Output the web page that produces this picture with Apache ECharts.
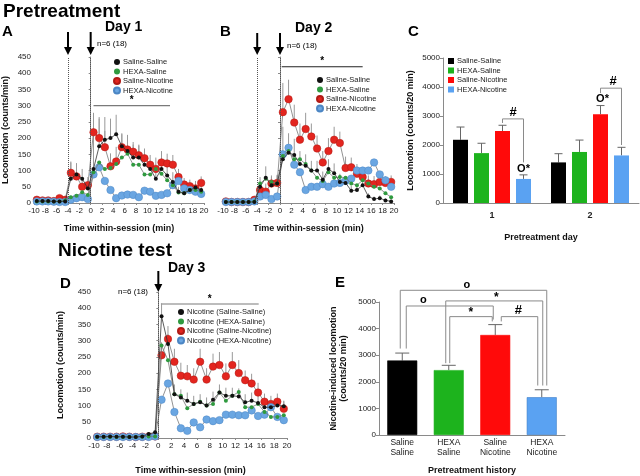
<!DOCTYPE html>
<html>
<head>
<meta charset="utf-8">
<script src="https://cdn.jsdelivr.net/npm/echarts@6/dist/echarts.min.js"></script>
<style>html,body{margin:0;padding:0;background:#fff}#main{width:640px;height:476px}</style>
</head>
<body>
<div id="main"></div>
<script>
// time bins (min) used in panels A, B, D
const times = [-9.5,-8.5,-7.5,-6.5,-5.5,-4.5,-3.5,-2.5,-1.5,-0.5,0.5,1.5,2.5,3.5,4.5,5.5,6.5,7.5,8.5,9.5,10.5,11.5,12.5,13.5,14.5,15.5,16.5,17.5,18.5,19.5];

// Panel A - Day 1
const ssA = [6,6,6,5,5,5,75,88,75,45,105,175,195,200,212,175,160,140,140,118,105,75,105,85,65,35,30,40,48,40];
const hsA = [5,5,5,5,5,8,18,22,33,25,95,125,105,108,120,140,152,118,118,88,88,105,90,70,55,32,30,40,40,35];
const snA = [10,8,8,6,15,10,93,82,50,55,218,200,172,113,128,172,165,158,147,138,118,105,125,122,118,80,57,52,45,62];
const hnA = [5,5,5,4,3,3,10,15,18,12,88,110,68,40,15,23,26,25,18,38,35,22,25,30,55,68,45,40,35,28];
const ssAerr = [2,2,2,2,2,2,50,35,30,20,170,90,70,60,60,40,50,40,40,30,25,25,30,35,30,15,15,15,20,15];
const snAerr = [3,3,3,3,3,3,35,30,25,25,60,60,50,40,45,40,35,30,30,30,30,35,35,30,30,25,20,20,15,20];

// Panel B - Day 2
const ssB = [3,3,3,3,3,3,50,78,55,60,135,155,148,120,115,100,100,72,105,92,65,62,38,40,55,20,12,15,8,5];
const hsB = [3,3,3,3,3,5,60,75,65,60,145,160,135,135,120,100,78,68,95,78,80,78,60,55,70,60,50,45,30,18];
const snB = [5,3,3,3,3,10,40,35,60,62,280,320,248,195,228,205,168,125,160,195,185,108,110,90,80,60,58,65,62,65];
const hnB = [3,3,3,3,3,5,20,25,12,20,150,170,118,95,40,50,50,58,50,60,62,68,75,100,100,100,125,88,70,50];
const ssBerr = [2,2,2,2,2,2,30,35,25,25,100,60,50,40,35,30,30,25,30,30,25,20,15,15,20,10,8,8,6,5];
const snBerr = [2,2,2,2,2,3,25,25,25,25,90,60,55,50,50,40,40,35,40,40,35,35,30,30,30,25,25,25,20,20];

// Panel D - Day 3 nicotine test
const ssD = [4,4,5,4,4,3,3,5,12,18,375,290,135,125,115,105,110,100,118,140,130,130,128,110,115,108,95,95,100,98];
const hsD = [3,3,3,3,3,3,3,4,5,5,285,240,135,130,92,105,112,100,105,140,115,130,142,95,95,105,80,65,65,70];
const snD = [4,4,4,4,5,4,3,4,5,5,255,305,235,192,190,180,235,180,220,225,190,225,200,178,168,140,112,105,112,90];
const hnD = [3,3,3,3,3,3,3,3,3,5,118,168,80,30,22,48,33,57,52,55,72,72,70,70,85,68,72,95,65,55];
const ssDerr = [2,2,2,2,2,2,2,3,5,5,40,30,30,25,25,25,25,25,25,25,25,25,25,25,25,25,20,15,15,15];
const snDerr = [2,2,2,2,2,2,2,2,3,3,40,40,40,40,35,35,40,35,40,40,40,40,40,30,30,30,25,25,25,25];

// Panel C - total per pretreatment day
const cDays = ['1', '2'];
const cSS = [2180, 1400], cSSerr = [440, 300];
const cHS = [1720, 1760], cHSerr = [340, 410];
const cSN = [2480, 3060], cSNerr = [200, 300];
const cHN = [830, 1640], cHNerr = [140, 280];

// Panel E - nicotine-induced locomotion
const eGroups = ['Saline\nSaline', 'HEXA\nSaline', 'Saline\nNicotine', 'HEXA\nNicotine'];
const eVals = [2800, 2440, 3760, 1420];
const eErr = [280, 180, 390, 280];

const groupNames = ['Saline-Saline', 'HEXA-Saline', 'Saline-Nicotine', 'HEXA-Nicotine'];
const nicNames = ['Nicotine (Saline-Saline)', 'Nicotine (HEXA-Saline)', 'Nicotine (Saline-Nicotine)', 'Nicotine (HEXA-Nicotine)'];
const lineCol = ['#111111', '#2f9a3f', '#e3251f', '#6aa6e2'];
const barCol = ['#000000', '#1db31d', '#ff0a0a', '#5aa2f2'];

const FONT = 'Liberation Sans, Arial, sans-serif';
const chart = echarts.init(document.getElementById('main'));

const axisGray = { lineStyle: { color: '#8a8a8a', width: 1 } };
const tickLbl = { fontSize: 8, color: '#222', fontFamily: FONT };
const nameSt = { fontSize: 9, fontWeight: 'bold', color: '#111', fontFamily: FONT };
const plain = v => String(v);

function timeX(g) {
  return {
    type: 'value', gridIndex: g, min: -10, max: 20, interval: 2,
    axisLine: axisGray, axisTick: { length: 2, lineStyle: { color: '#8a8a8a' } },
    splitLine: { show: false }, axisLabel: Object.assign({ margin: 4, hideOverlap: false }, tickLbl),
    name: 'Time within-session (min)', nameLocation: 'middle', nameGap: g === 3 ? 28 : 21, nameTextStyle: nameSt
  };
}
function locoY(g, labels) {
  return {
    type: 'value', gridIndex: g, min: 0, max: 450, interval: 50,
    axisLine: { show: true, lineStyle: { color: '#8a8a8a' } },
    axisTick: { show: true, length: 2, lineStyle: { color: '#8a8a8a' } },
    splitLine: { show: false },
    axisLabel: Object.assign({ show: labels, margin: 3 }, tickLbl),
    name: labels ? 'Locomotion (counts/min)' : '', nameLocation: 'middle', nameGap: g === 3 ? 29 : 24, nameTextStyle: nameSt
  };
}

function lineSeries(g, name, vals, k) {
  const big = k >= 2;
  return {
    type: 'line', name: name, xAxisIndex: g, yAxisIndex: g,
    data: times.map((t, i) => [t, vals[i]]),
    symbol: 'circle', symbolSize: big ? 7.5 : 4,
    itemStyle: { color: lineCol[k], borderColor: big ? (k === 2 ? '#b01a15' : '#4c86c4') : lineCol[k], borderWidth: big ? 0.5 : 0 },
    lineStyle: { color: k === 0 ? '#333' : '#777', width: 0.8 },
    z: big ? 3 : 4, animation: false
  };
}
function errSeries(g, vals, errs) {
  return {
    type: 'custom', xAxisIndex: g, yAxisIndex: g, silent: true, z: 2,
    data: times.map((t, i) => [t, vals[i], errs[i]]),
    renderItem: function (params, api) {
      const p0 = api.coord([api.value(0), api.value(1)]);
      const p1 = api.coord([api.value(0), api.value(1) + api.value(2)]);
      return { type: 'line', shape: { x1: p0[0], y1: p0[1], x2: p1[0], y2: p1[1] }, style: { stroke: '#999', lineWidth: 1 } };
    }
  };
}
function barErr(g, vals, errs, offset, cap) {
  return {
    type: 'custom', xAxisIndex: g, yAxisIndex: g, silent: true, z: 1,
    data: vals.map((v, i) => [i, v, errs[i]]),
    renderItem: function (params, api) {
      const p0 = api.coord([api.value(0), api.value(1)]);
      const p1 = api.coord([api.value(0), api.value(1) + api.value(2)]);
      const x = p0[0] + offset;
      return { type: 'group', children: [
        { type: 'line', shape: { x1: x, y1: p0[1], x2: x, y2: p1[1] }, style: { stroke: '#666', lineWidth: 1 } },
        { type: 'line', shape: { x1: x - cap, y1: p1[1], x2: x + cap, y2: p1[1] }, style: { stroke: '#666', lineWidth: 1 } }
      ] };
    }
  };
}
function vlines(xs) {
  return { silent: true, symbol: 'none', label: { show: false }, lineStyle: { type: 'dotted', color: '#555', width: 1 },
    data: xs.map(v => ({ xAxis: v })) };
}

const series = [];
[[ssA, hsA, snA, hnA, ssAerr, snAerr, 0, groupNames, [-4, 0]],
 [ssB, hsB, snB, hnB, ssBerr, snBerr, 1, groupNames, [-4, 0]],
 [ssD, hsD, snD, hnD, ssDerr, snDerr, 3, nicNames, [0]]].forEach(p => {
  const g = p[6];
  series.push(errSeries(g, p[2], p[5]));
  series.push(errSeries(g, p[0], p[4]));
  const red = lineSeries(g, p[7][2], p[2], 2);
  red.markLine = vlines(p[8]);
  series.push(red);
  series.push(lineSeries(g, p[7][3], p[3], 3));
  series.push(lineSeries(g, p[7][1], p[1], 1));
  series.push(lineSeries(g, p[7][0], p[0], 0));
});

// Panel C bars
const cSets = [[cSS, cSSerr], [cHS, cHSerr], [cSN, cSNerr], [cHN, cHNerr]];
const cOff = [-31.5, -10.5, 10.5, 31.5];
cSets.forEach((s, k) => {
  series.push({ type: 'bar', name: 'C ' + groupNames[k], xAxisIndex: 2, yAxisIndex: 2, data: s[0],
    barWidth: 15, barGap: '40%', itemStyle: { color: barCol[k] }, z: 2, animation: false });
});
cSets.forEach((s, k) => series.push(barErr(2, s[0], s[1], cOff[k], 4)));

// Panel E bars
series.push({ type: 'bar', xAxisIndex: 4, yAxisIndex: 4, barWidth: 30, animation: false, z: 2,
  data: eVals.map((v, i) => ({ value: v, itemStyle: { color: barCol[i], borderColor: i === 3 ? '#3f7fc8' : barCol[i], borderWidth: 0.6 } })) });
series.push(barErr(4, eVals, eErr, 0, 7));

function legendAt(left, top, names, cols, icon, fmt) {
  return {
    orient: 'vertical', left: left, top: top, padding: 0, itemGap: 1.5,
    itemWidth: 6, itemHeight: 6, icon: icon, selectedMode: false,
    formatter: fmt,
    textStyle: { fontSize: 7.5, color: '#222', fontFamily: FONT, padding: [0, 0, 0, -2] },
    data: names.map((n, i) => ({ name: n, itemStyle: { color: cols[i] } }))
  };
}

chart.setOption({
  backgroundColor: '#fff',
  animation: false,
  textStyle: { fontFamily: FONT },
  grid: [
    { left: 34, top: 57, width: 170, height: 146 },
    { left: 223, top: 57, width: 171, height: 146 },
    { left: 443, top: 58, width: 196, height: 145 },
    { left: 94, top: 292, width: 193, height: 146 },
    { left: 379, top: 302, width: 186, height: 137 }
  ],
  xAxis: [
    timeX(0), timeX(1),
    { type: 'category', gridIndex: 2, data: cDays, axisLine: axisGray, axisTick: { show: false },
      axisLabel: { fontSize: 9, fontWeight: 'bold', color: '#222', margin: 8 },
      name: 'Pretreatment day', nameLocation: 'middle', nameGap: 30, nameTextStyle: nameSt },
    timeX(3),
    { type: 'category', gridIndex: 4, data: eGroups, axisLine: axisGray, axisTick: { show: false },
      axisLabel: { fontSize: 8.5, color: '#222', lineHeight: 10, margin: 3 },
      name: 'Pretreatment history', nameLocation: 'middle', nameGap: 31, nameTextStyle: nameSt }
  ],
  yAxis: [
    locoY(0, true), locoY(1, false),
    { type: 'value', gridIndex: 2, min: 0, max: 5000, interval: 1000, splitLine: { show: false },
      axisLine: { show: true, lineStyle: { color: '#8a8a8a' } }, axisTick: { show: true, length: 3, lineStyle: { color: '#8a8a8a' } },
      axisLabel: Object.assign({ margin: 3, formatter: plain }, tickLbl),
      name: 'Locomotion (counts/20 min)', nameLocation: 'middle', nameGap: 28, nameTextStyle: nameSt },
    locoY(3, true),
    { type: 'value', gridIndex: 4, min: 0, max: 5000, interval: 1000, splitLine: { show: false },
      axisLine: { show: true, lineStyle: { color: '#8a8a8a' } }, axisTick: { show: true, length: 3, lineStyle: { color: '#8a8a8a' } },
      axisLabel: Object.assign({ margin: 3, formatter: plain }, tickLbl),
      name: 'Nicotine-induced locomotion\n(counts/20 min)', nameLocation: 'middle', nameGap: 30,
      nameTextStyle: Object.assign({ lineHeight: 10 }, nameSt) }
  ],
  legend: [
    legendAt(113, 58, groupNames, lineCol, 'circle'),
    legendAt(316, 76, groupNames, lineCol, 'circle'),
    legendAt(177, 308, nicNames, lineCol, 'circle'),
    legendAt(448, 57, groupNames.map(n => 'C ' + n), barCol, 'rect', n => n.replace('C ', ''))
  ],
  series: series
});

// annotations placed through the axes
function px(g, x, y) { return chart.convertToPixel({ xAxisIndex: g, yAxisIndex: g }, [x, y]); }
const G = [];
function txt(x, y, s, size, bold, align) {
  G.push({ type: 'text', x: x, y: y, silent: true,
    style: { text: s, fontSize: size, fontWeight: bold ? 'bold' : 'normal', fontFamily: FONT, fill: '#000',
      align: align || 'left', verticalAlign: 'middle' } });
}
function arrow(x, y0, y1) {
  G.push({ type: 'line', silent: true, shape: { x1: x, y1: y0, x2: x, y2: y1 - 6 }, style: { stroke: '#000', lineWidth: 2 } });
  G.push({ type: 'polygon', silent: true, shape: { points: [[x - 4, y1 - 8], [x + 4, y1 - 8], [x, y1]] }, style: { fill: '#000' } });
}
function sigLine(g, x0, x1, y, color) {
  const a = px(g, x0, y), b = px(g, x1, y);
  G.push({ type: 'line', silent: true, shape: { x1: a[0], y1: a[1], x2: b[0], y2: b[1] }, style: { stroke: color, lineWidth: 1.2 } });
  txt((a[0] + b[0]) / 2, a[1] - 5, '*', 10, true, 'center');
}
function bracket(g, cl, dl, cr, dr, vl, vr, vt) {
  const l = px(g, cl, vl), r = px(g, cr, vr), t = px(g, cl, vt);
  G.push({ type: 'polyline', silent: true,
    shape: { points: [[l[0] + dl, l[1]], [l[0] + dl, t[1]], [r[0] + dr, t[1]], [r[0] + dr, r[1]]] },
    style: { stroke: '#8a8a8a', lineWidth: 1, fill: null } });
}
function catTxt(g, c, dx, v, s, size) {
  const p = px(g, c, v);
  txt(p[0] + dx, p[1], s, size, true, 'center');
}

// titles and panel letters
txt(3, 12, 'Pretreatment', 19, true);
txt(58, 251, 'Nicotine test', 19, true);
txt(2, 32, 'A', 15, true); txt(220, 32, 'B', 15, true); txt(408, 32, 'C', 15, true);
txt(60, 284, 'D', 15, true); txt(335, 283, 'E', 15, true);
txt(105, 27, 'Day 1', 14, true); txt(295, 28, 'Day 2', 14, true); txt(168, 268, 'Day 3', 14, true);
txt(97, 44, 'n=6 (18)', 8); txt(287, 46, 'n=6 (18)', 8); txt(118, 292, 'n=6 (18)', 8);

// injection arrows
arrow(px(0, -4, 0)[0], 32, 55); arrow(px(0, 0, 0)[0], 32, 55);
arrow(px(1, -4, 0)[0], 33, 55); arrow(px(1, 0, 0)[0], 33, 55);
arrow(px(3, 0, 0)[0], 271, 292);

// significance bars over time
sigLine(0, 0.5, 14, 300, '#7a7a7a');
sigLine(1, 0.3, 14.5, 420, '#222');
sigLine(3, 0.4, 15.6, 413, '#7a7a7a');

// panel C brackets
bracket(2, 0, cOff[2], 0, cOff[3], 2760, 1400, 2900);
catTxt(2, 0, (cOff[2] + cOff[3]) / 2, 3120, '#', 13);
catTxt(2, 0, cOff[3], 1180, 'O*', 11);
bracket(2, 1, cOff[2], 1, cOff[3], 3790, 2000, 3960);
catTxt(2, 1, (cOff[2] + cOff[3]) / 2 + 2, 4180, '#', 13);
catTxt(2, 1, cOff[2] + 2, 3580, 'O*', 11);

// panel E brackets
bracket(4, 0, -2, 3, 5, 3250, 1860, 5440);
catTxt(4, 1, 18, 5640, 'o', 11);
bracket(4, 0, 4, 2, -2, 3250, 4340, 4850);
catTxt(4, 0, 21, 5060, 'o', 11);
bracket(4, 1, -3, 3, 1, 2700, 1860, 5040);
catTxt(4, 2, 1, 5160, '*', 12);
bracket(4, 1, 1, 2, -3, 2700, 4270, 4450);
catTxt(4, 1, 22, 4600, '*', 12);
bracket(4, 2, 6, 3, -4, 4270, 1860, 4450);
catTxt(4, 2, 23, 4680, '#', 13);

chart.setOption({ graphic: G });
</script>
</body>
</html>
